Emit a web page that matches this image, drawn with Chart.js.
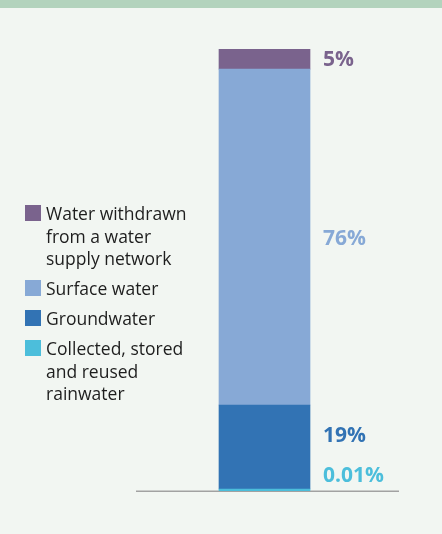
<!DOCTYPE html>
<html>
<head>
<meta charset="utf-8">
<script src="https://cdn.jsdelivr.net/npm/chart.js@4/dist/chart.umd.min.js"></script>
<style>
  html, body { margin: 0; padding: 0; }
  body { width: 442px; height: 534px; background: #f2f6f2; position: relative; overflow: hidden; font-family: "Open Sans", sans-serif; }
  #band { position: absolute; left: 0; top: 0; width: 442px; height: 8px; background: #b3d3bd; }
  #wrap { position: absolute; left: 0; top: 0; width: 442px; height: 534px; }
  #legend { position: absolute; left: 25px; top: 202px; margin: 0; padding: 0; list-style: none; }
  #legend li { position: relative; padding-left: 21px; font-size: 17.5px; line-height: 22.5px; color: #1e1e1e; margin-bottom: 7.5px; white-space: nowrap; }
  #legend .sw { position: absolute; left: 0; top: 3px; width: 16px; height: 16px; }
</style>
</head>
<body>
<div id="band"></div>
<div id="wrap"><canvas id="c" width="442" height="534"></canvas></div>
<ul id="legend"></ul>
<script>
// ---- data ----
const categories = ["Water sources"];
const seriesNames = [
  "Collected, stored and reused rainwater",
  "Groundwater",
  "Surface water",
  "Water withdrawn from a water supply network"
];
const legendLines = [
  ["Water withdrawn", "from a water", "supply network"],
  ["Surface water"],
  ["Groundwater"],
  ["Collected, stored", "and reused", "rainwater"]
];
const rainwaterValues = [0.01];
const groundwaterValues = [19];
const surfaceValues = [76];
const networkValues = [5];
const valueLabels = ["0.01%", "19%", "76%", "5%"];
const colors = ["#4cbedb", "#3273b4", "#87a9d6", "#7a638d"];

const seriesValues = [rainwaterValues, groundwaterValues, surfaceValues, networkValues];
const total = seriesValues.reduce((s, v) => s + v[0], 0);

// HTML legend (order top to bottom: network, surface, ground, rain)
const legendColorIdx = [3, 2, 1, 0];
const ul = document.getElementById('legend');
legendLines.forEach((lines, i) => {
  const li = document.createElement('li');
  const sw = document.createElement('span');
  sw.className = 'sw';
  sw.style.background = colors[legendColorIdx[i]];
  li.appendChild(sw);
  lines.forEach((t, j) => {
    if (j) li.appendChild(document.createElement('br'));
    li.appendChild(document.createTextNode(t));
  });
  ul.appendChild(li);
});

const labelOffsets = [-14, -10.5, 2, 2];

const valueLabelPlugin = {
  id: 'valueLabels',
  afterDatasetsDraw(chart) {
    const ctx = chart.ctx;
    ctx.save();
    ctx.font = 'bold 21px "Open Sans", sans-serif';
    ctx.textBaseline = 'middle';
    ctx.textAlign = 'left';
    chart.data.datasets.forEach((ds, i) => {
      const bar = chart.getDatasetMeta(i).data[0];
      const yc = (bar.y + bar.base) / 2;
      ctx.fillStyle = colors[i];
      ctx.fillText(valueLabels[i], bar.x + bar.width / 2 + 13, yc + labelOffsets[i]);
    });
    ctx.restore();
  }
};

const baselinePlugin = {
  id: 'baseline',
  beforeDatasetsDraw(chart) {
    const { ctx, chartArea } = chart;
    ctx.save();
    ctx.strokeStyle = '#a2a2a2';
    ctx.lineWidth = 1.5;
    ctx.beginPath();
    ctx.moveTo(chartArea.left + 3, chartArea.bottom + 0.25);
    ctx.lineTo(chartArea.right + 3, chartArea.bottom + 0.25);
    ctx.stroke();
    ctx.restore();
  }
};

new Chart(document.getElementById('c'), {
  type: 'bar',
  data: {
    labels: categories,
    datasets: seriesValues.map((vals, i) => ({
      label: seriesNames[i],
      data: vals,
      backgroundColor: colors[i],
      borderWidth: 0,
      barThickness: 91,
      minBarLength: i === 0 ? 2 : 0
    }))
  },
  options: {
    responsive: false,
    animation: false,
    devicePixelRatio: 1,
    layout: { padding: { left: 133, right: 46, top: 49, bottom: 43 } },
    scales: {
      x: { stacked: true, display: false },
      y: { stacked: true, display: false, min: 0, max: total }
    },
    plugins: {
      legend: { display: false },
      tooltip: { enabled: false }
    }
  },
  plugins: [baselinePlugin, valueLabelPlugin]
});
</script>
</body>
</html>
